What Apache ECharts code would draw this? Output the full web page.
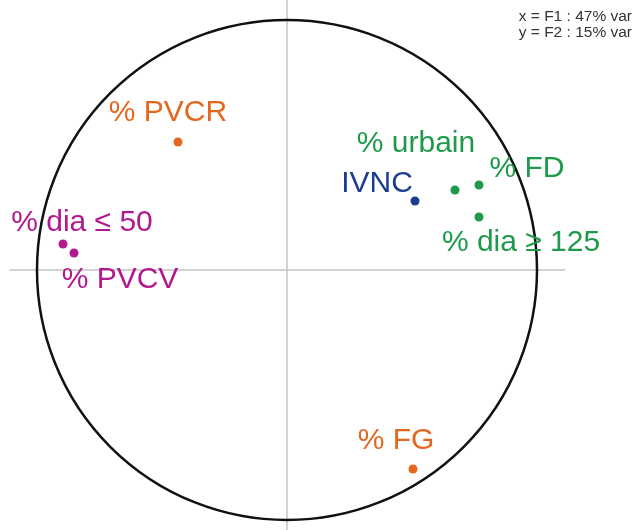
<!DOCTYPE html>
<html><head><meta charset="utf-8">
<script src="https://cdn.jsdelivr.net/npm/echarts@6/dist/echarts.min.js"></script>
<style>html,body{margin:0;padding:0;background:#fff}#c{width:634px;height:530px}</style>
</head><body><div id="c"></div>
<script>
// Variables (correlation circle coordinates on F1, F2)
const varNames = ['% PVCR', '% dia ≤ 50', '% PVCV', 'IVNC', '% urbain', '% FD', '% dia ≥ 125', '% FG'];
const f1Values = [-0.436, -0.896, -0.852, 0.512, 0.672, 0.768, 0.768, 0.504];
const f2Values = [0.512, 0.104, 0.068, 0.276, 0.320, 0.340, 0.212, -0.796];
const varGroups = ['orange', 'magenta', 'magenta', 'navy', 'green', 'green', 'green', 'orange'];
const axisInfo = ['x = F1 : 47% var', 'y = F2 : 15% var'];

// styles
const groupColors = { orange: '#E5671E', magenta: '#B2188F', green: '#1E9A4A', navy: '#1B3D8F' };
const labelOffsets = {
  '% PVCR': [-10, -29], '% dia ≤ 50': [19, -21], '% PVCV': [46, 27], 'IVNC': [-38, -17],
  '% urbain': [-39, -46], '% FD': [48, -16], '% dia ≥ 125': [42, 26], '% FG': [-17, -28]
};

const points = varNames.map((n, i) => ({
  name: n,
  value: [f1Values[i], f2Values[i]],
  itemStyle: { color: groupColors[varGroups[i]], opacity: 1 },
  label: { color: groupColors[varGroups[i]], offset: labelOffsets[n] }
}));

const chart = echarts.init(document.getElementById('c'), null, { renderer: 'canvas' });
chart.setOption({
  animation: false,
  backgroundColor: '#fff',
  grid: { left: 10, right: 69, top: 0, bottom: 0 },
  xAxis: { type: 'value', min: -1.108, max: 1.112, splitLine: { show: false },
    axisTick: { show: false }, axisLabel: { show: false },
    axisLine: { onZero: true, lineStyle: { color: '#c4c4c4', width: 1.5 } } },
  yAxis: { type: 'value', min: -1.04, max: 1.08, splitLine: { show: false },
    axisTick: { show: false }, axisLabel: { show: false },
    axisLine: { onZero: true, lineStyle: { color: '#c4c4c4', width: 1.5 } } },
  graphic: [{
    type: 'text', right: 2, top: 9,
    style: { text: axisInfo.join('\n'), font: '15.5px "Liberation Sans", Arial, sans-serif',
      fill: '#333', lineHeight: 16, align: 'right' }
  }],
  series: [
    {
      type: 'custom',
      silent: true,
      data: [[0, 0]],
      renderItem: function (params, api) {
        const c = api.coord([0, 0]);
        const s = api.size([1, 1]);
        return { type: 'circle', shape: { cx: c[0], cy: c[1], r: s[0] },
          style: { fill: 'none', stroke: '#111', lineWidth: 2.5 } };
      },
      z: 1
    },
    {
      type: 'scatter',
      symbolSize: 9,
      data: points,
      z: 3,
      itemStyle: { opacity: 1 },
      label: {
        show: true, position: 'inside', formatter: '{b}',
        fontFamily: '"Liberation Sans", Arial, sans-serif', fontSize: 30,
        align: 'center', verticalAlign: 'middle'
      }
    }
  ]
});
</script></body></html>
